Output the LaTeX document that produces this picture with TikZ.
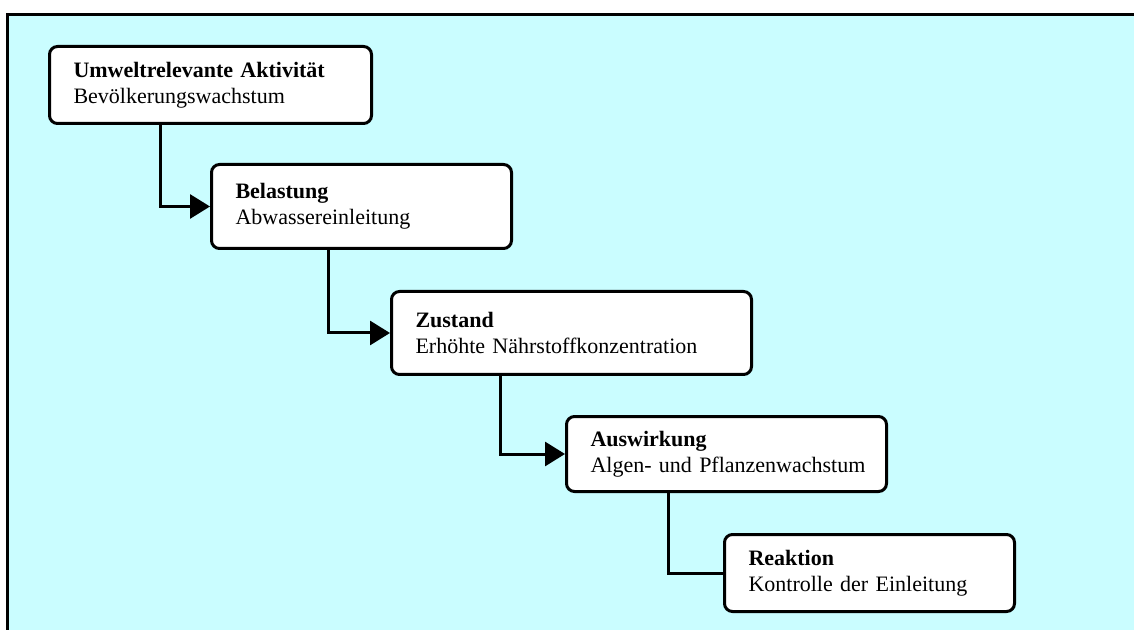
\documentclass[tikz,border=0pt]{standalone}
\usepackage{fontspec}
\setmainfont{Liberation Serif}
\usetikzlibrary{arrows.meta}
\definecolor{panelcyan}{RGB}{202,253,255}

\begin{document}
\begin{tikzpicture}[x=0.5pt,y=-0.5pt,
    stage node/.style={draw,line width=1.5pt,rounded corners=4pt,fill=white,anchor=north west,
      align=left,inner xsep=12pt,font=\fontsize{11}{13}\selectfont},
    link/.style={line width=1.5pt},
    arrow link/.style={link,-{Triangle[length=10pt,width=12pt]}}]
   \useasboundingbox (0,0) rectangle (1134,630);
   % panel
   \fill[panelcyan] (7,15) rectangle (1160,660);
   \draw[line width=1.5pt] (7,660) -- (7,15) -- (1160,15);
   % stages
   \node[stage node,text width=137pt,minimum height=38.5pt] (akt) at (48,45)
     {\textbf{Umweltrelevante Aktivität}\\Bevölkerungswachstum};
   \node[stage node,text width=126pt,minimum height=42pt] (bel) at (210,163)
     {\textbf{Belastung}\\Abwassereinleitung};
   \node[stage node,text width=156pt,minimum height=41.5pt] (zus) at (390,290)
     {\textbf{Zustand}\\Erhöhte Nährstoffkonzentration};
   \node[stage node,text width=136pt,minimum height=37.5pt] (ausw) at (565,415)
     {\textbf{Auswirkung}\\\mbox{Algen- und Pflanzenwachstum}};
   \node[stage node,text width=121pt,minimum height=38.5pt] (reak) at (723,533)
     {\textbf{Reaktion}\\Kontrolle der Einleitung};
   % links
   \draw[arrow link] ([xshift=56pt]akt.south west) |- (bel.west);
   \draw[arrow link] ([xshift=59pt]bel.south west) |- (zus.west);
   \draw[arrow link] ([xshift=55pt]zus.south west) |- (ausw.west);
   \draw[link] ([xshift=51.5pt]ausw.south west) |- (reak.west);
\end{tikzpicture}
\end{document}
